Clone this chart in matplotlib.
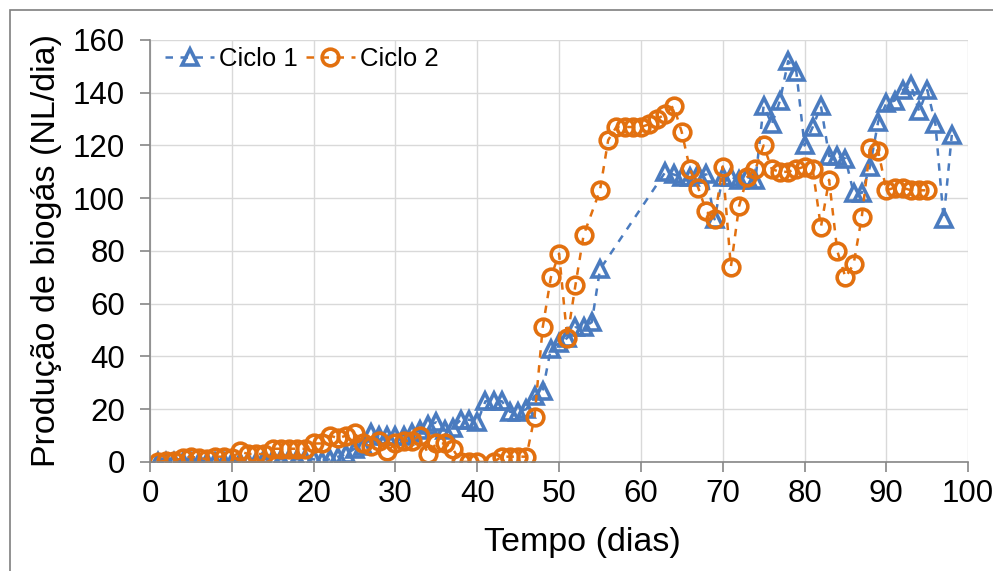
import matplotlib.pyplot as plt
from matplotlib.patches import Rectangle

plt.rcParams['font.family'] = ['Liberation Sans', 'DejaVu Sans']

# Ciclo 1
dias_c1 = list(range(1, 56)) + list(range(63, 99))
biogas_c1 = [0, 0, 0, 0, 0, 0, 0, 0, 0, 0, 0, 0, 0,
             1, 1, 1, 1, 1, 1, 1,
             0.5, 1, 2, 3, 5, 6, 11, 10, 10, 10, 10, 11, 12, 14, 15, 12, 13, 16, 16, 15,
             23, 23, 23, 19, 19, 20, 25, 27, 43, 45, 47, 51, 51, 53, 73,
             110, 109, 108, 108, 109, 109, 92, 108, 108, 107, 108, 107,
             135, 128, 137, 152, 148, 120, 127, 135, 116, 116, 115, 102, 102, 112,
             129, 136, 137, 141, 143, 133, 141, 128, 92, 124]

# Ciclo 2
dias_c2 = list(range(1, 41)) + list(range(42, 54)) + list(range(55, 96))
biogas_c2 = [0, 0.5, 0.5, 1.5, 2, 1.5, 1, 2, 2, 1.5, 4, 3, 3, 3, 5, 5, 5, 5, 5, 7,
             7, 10, 9, 10, 11, 7, 6, 8, 4, 7, 8, 8, 10, 3, 7, 7, 5, 0, 0, 0,
             0, 2, 2, 2, 2, 17, 51, 70, 79, 47, 67, 86,
             103, 122, 127, 127, 127, 127, 128, 130, 132, 135, 125, 111, 104, 95, 92,
             112, 74, 97, 108, 111, 120, 111, 110, 110, 111, 112, 111, 89, 107, 80,
             70, 75, 93, 119, 118, 103, 104, 104, 103, 103, 103]

azul = '#4A7BBF'
laranja = '#E2700F'

fig = plt.figure(figsize=(9.93, 5.71), dpi=100)
ax = fig.add_axes([0.151, 0.191, 0.824, 0.739])

# moldura externa
fig.patches.append(Rectangle((10 / 993, -0.01), 1.0, 1 - 10 / 571 + 0.01,
                             transform=fig.transFigure, fill=False,
                             edgecolor='#7f7f7f', linewidth=1.2))

ax.plot(dias_c1, biogas_c1, linestyle='--', color=azul, linewidth=1.8,
        marker='^', markersize=12, markerfacecolor='none',
        markeredgecolor=azul, markeredgewidth=2.6, label='Ciclo 1',
        dashes=(3, 3))
ax.plot(dias_c2, biogas_c2, linestyle='--', color=laranja, linewidth=1.8,
        marker='o', markersize=12, markerfacecolor='none',
        markeredgecolor=laranja, markeredgewidth=2.6, label='Ciclo 2',
        dashes=(3, 3))

ax.set_xlim(0, 100)
ax.set_ylim(0, 160)
ax.set_xticks(range(0, 101, 10))
ax.set_yticks(range(0, 161, 20))
ax.grid(True, color='#d9d9d9', linewidth=1)
ax.set_axisbelow(True)
for s in ['top', 'right']:
    ax.spines[s].set_visible(False)
for s in ['left', 'bottom']:
    ax.spines[s].set_color('#868686')
    ax.spines[s].set_linewidth(1.2)
ax.tick_params(axis='both', labelsize=22.5, color='#868686', length=7, width=1.2)
ax.tick_params(axis='x', pad=5)
ax.tick_params(axis='y', pad=11)

ax.set_xlabel('Tempo (dias)', fontsize=24.5)
ax.xaxis.set_label_coords(0.528, -0.155)
ax.set_ylabel('Produção de biogás (NL/dia)', fontsize=24.5, labelpad=8)

ax.legend(loc='upper left', ncol=2, frameon=False, fontsize=18.5,
          handlelength=1.9, columnspacing=0.3, handletextpad=0.2,
          borderaxespad=0.2, bbox_to_anchor=(0.0, 1.02))

fig.savefig('out.png', dpi=100)
